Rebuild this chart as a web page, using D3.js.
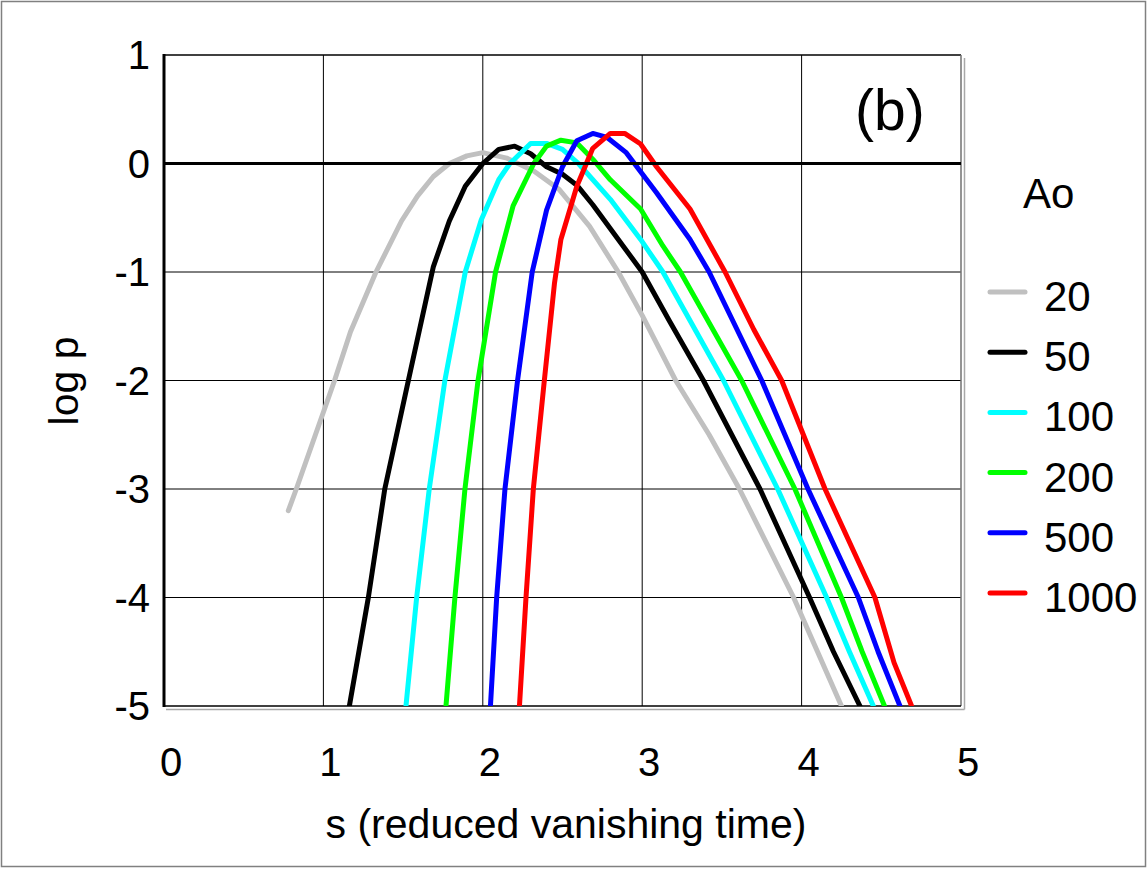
<!DOCTYPE html>
<html>
<head>
<meta charset="utf-8">
<script src="https://cdn.jsdelivr.net/npm/d3@7"></script>
<style>
  body { margin: 0; background: #fff; }
  text { font-family: Arial, "Liberation Sans", sans-serif; fill: #000; }
</style>
</head>
<body>
<div id="chart"></div>
<script>
// tick values
const xTicks = [0, 1, 2, 3, 4, 5];
const yTicks = [1, 0, -1, -2, -3, -4, -5];

// legend
const aoLabels = ["20", "50", "100", "200", "500", "1000"];
const aoColors = ["#c0c0c0", "#000000", "#00ffff", "#00ff00", "#0000ff", "#ff0000"];

// curves: [s, log p]
const ao20 = [[0.78,-3.2],[0.83,-3.0],[0.95,-2.5],[1.07,-2.0],[1.17,-1.55],[1.33,-1.0],[1.49,-0.53],
  [1.59,-0.30],[1.69,-0.12],[1.79,0.0],[1.9,0.07],[2.0,0.10],[2.15,0.05],[2.32,-0.07],[2.48,-0.24],
  [2.67,-0.58],[2.85,-1.0],[3.0,-1.4],[3.21,-2.0],[3.42,-2.5],[3.61,-3.0],[3.95,-4.0],[4.1,-4.5],[4.25,-5.0]];
const ao50 = [[1.163,-5.0],[1.282,-4.0],[1.385,-3.0],[1.533,-2.0],[1.69,-0.95],[1.79,-0.53],[1.89,-0.21],
  [2.0,0.0],[2.1,0.13],[2.2,0.16],[2.3,0.09],[2.4,-0.03],[2.5,-0.1],[2.59,-0.2],[2.69,-0.38],[2.85,-0.7],
  [3.0,-1.0],[3.17,-1.45],[3.384,-2.0],[3.739,-3.0],[4.05,-4.0],[4.2,-4.5],[4.366,-5.0]];
const ao100 = [[1.518,-5.0],[1.585,-4.0],[1.664,-3.0],[1.762,-2.0],[1.89,-1.0],[1.99,-0.52],[2.1,-0.15],
  [2.17,0.0],[2.3,0.185],[2.4,0.185],[2.5,0.13],[2.6,0.0],[2.8,-0.33],[2.99,-0.70],[3.13,-1.0],
  [3.51,-2.0],[3.85,-3.0],[4.157,-4.0],[4.3,-4.5],[4.45,-5.0]];
const ao200 = [[1.769,-5.0],[1.825,-4.0],[1.888,-3.0],[1.97,-2.0],[2.08,-1.0],[2.19,-0.39],[2.32,0.0],
  [2.4,0.16],[2.49,0.215],[2.59,0.19],[2.69,0.04],[2.8,-0.15],[2.99,-0.42],[3.13,-0.76],[3.24,-1.0],
  [3.624,-2.0],[3.958,-3.0],[4.25,-4.0],[4.38,-4.5],[4.52,-5.0]];
const ao500 = [[2.048,-5.0],[2.087,-4.0],[2.139,-3.0],[2.218,-2.0],[2.31,-1.0],[2.4,-0.43],[2.5,-0.03],
  [2.59,0.21],[2.69,0.277],[2.78,0.24],[2.9,0.10],[3.09,-0.27],[3.3,-0.70],[3.42,-1.0],[3.75,-2.0],
  [4.04,-3.0],[4.356,-4.0],[4.48,-4.5],[4.617,-5.0]];
const ao1000 = [[2.23,-5.0],[2.271,-4.0],[2.317,-3.0],[2.386,-2.0],[2.45,-1.1],[2.49,-0.7],[2.59,-0.21],
  [2.69,0.14],[2.8,0.277],[2.89,0.277],[2.99,0.18],[3.09,-0.03],[3.3,-0.42],[3.52,-1.0],[3.7,-1.53],
  [3.875,-2.0],[4.147,-3.0],[4.46,-4.0],[4.5,-4.2],[4.58,-4.6],[4.69,-5.0]];

const curves = [ao20, ao50, ao100, ao200, ao500, ao1000];

const W = 1148, H = 869;
const plot = { left: 164, top: 55, right: 961, bottom: 706 };

const svg = d3.select('#chart')
  .append('svg')
  .attr('width', W)
  .attr('height', H);

// outer frame
svg.append('rect')
  .attr('x', 1.5).attr('y', 1.5)
  .attr('width', W - 4).attr('height', H - 4)
  .attr('fill', '#fff')
  .attr('stroke', '#808080')
  .attr('stroke-width', 1.5);

const x = d3.scaleLinear().domain([0, 5]).range([plot.left, plot.right]);
const y = d3.scaleLinear().domain([-5, 1]).range([plot.bottom, plot.top]);

// grid
const grid = svg.append('g');
grid.selectAll('.vgrid')
  .data(xTicks.filter(d => d > 0 && d < 5))
  .enter().append('line')
  .attr('x1', d => x(d)).attr('x2', d => x(d))
  .attr('y1', plot.top).attr('y2', plot.bottom)
  .attr('stroke', '#000').attr('stroke-width', 1);
grid.selectAll('.hgrid')
  .data(yTicks.filter(d => d > -5 && d !== 0))
  .enter().append('line')
  .attr('x1', plot.left).attr('x2', plot.right)
  .attr('y1', d => y(d)).attr('y2', d => y(d))
  .attr('stroke', '#000').attr('stroke-width', d => d === 1 ? 1.5 : 1);

// right / bottom frame of plot, with the grey shadow line
grid.append('line')
  .attr('x1', plot.right).attr('x2', plot.right)
  .attr('y1', plot.top).attr('y2', plot.bottom)
  .attr('stroke', '#707070').attr('stroke-width', 1.5);
grid.append('line')
  .attr('x1', plot.right + 3.5).attr('x2', plot.right + 3.5)
  .attr('y1', plot.top + 3).attr('y2', plot.bottom + 3.5)
  .attr('stroke', '#a8a8a8').attr('stroke-width', 1.5);
grid.append('line')
  .attr('x1', plot.left).attr('x2', plot.right)
  .attr('y1', plot.bottom).attr('y2', plot.bottom)
  .attr('stroke', '#000').attr('stroke-width', 1.5);
grid.append('line')
  .attr('x1', plot.left + 2).attr('x2', plot.right + 3.5)
  .attr('y1', plot.bottom + 3.5).attr('y2', plot.bottom + 3.5)
  .attr('stroke', '#a8a8a8').attr('stroke-width', 1.5);

// curves
svg.append('clipPath').attr('id', 'clip')
  .append('rect')
  .attr('x', plot.left).attr('y', plot.top)
  .attr('width', plot.right - plot.left).attr('height', plot.bottom - plot.top);

const line = d3.line().x(d => x(d[0])).y(d => y(d[1]));

svg.append('g')
  .attr('clip-path', 'url(#clip)')
  .selectAll('path')
  .data(curves)
  .enter().append('path')
  .attr('d', line)
  .attr('fill', 'none')
  .attr('stroke', (d, i) => aoColors[i])
  .attr('stroke-width', 5)
  .attr('stroke-linejoin', 'round')
  .attr('stroke-linecap', 'round');

// zero line and y axis on top
svg.append('line')
  .attr('x1', plot.left).attr('x2', plot.right)
  .attr('y1', y(0)).attr('y2', y(0))
  .attr('stroke', '#000').attr('stroke-width', 3);
svg.append('line')
  .attr('x1', plot.left).attr('x2', plot.left)
  .attr('y1', plot.top - 1).attr('y2', plot.bottom + 1)
  .attr('stroke', '#000').attr('stroke-width', 3);

// tick labels
svg.selectAll('.ylab')
  .data(yTicks)
  .enter().append('text')
  .attr('x', 150)
  .attr('y', d => y(d) + 14)
  .attr('text-anchor', 'end')
  .attr('font-size', 40)
  .text(d => d);

svg.selectAll('.xlab')
  .data(xTicks)
  .enter().append('text')
  .attr('x', d => x(d) + 7)
  .attr('y', 776)
  .attr('text-anchor', 'middle')
  .attr('font-size', 40)
  .text(d => d);

// axis titles
svg.append('text')
  .attr('x', 566)
  .attr('y', 838)
  .attr('text-anchor', 'middle')
  .attr('font-size', 41)
  .text('s (reduced vanishing time)');

svg.append('text')
  .attr('transform', 'translate(78,381) rotate(-90)')
  .attr('text-anchor', 'middle')
  .attr('font-size', 41)
  .text('log p');

svg.append('text')
  .attr('x', 855)
  .attr('y', 130)
  .attr('font-size', 57)
  .text('(b)');

// legend
svg.append('text')
  .attr('x', 1023)
  .attr('y', 208)
  .attr('font-size', 42)
  .text('Ao');

const legend = svg.selectAll('.legend')
  .data(aoLabels)
  .enter().append('g')
  .attr('transform', (d, i) => `translate(0, ${292 + i * 60.2})`);

legend.append('line')
  .attr('x1', 990).attr('x2', 1025)
  .attr('y1', 0).attr('y2', 0)
  .attr('stroke', (d, i) => aoColors[i])
  .attr('stroke-width', 5)
  .attr('stroke-linecap', 'round');

legend.append('text')
  .attr('x', 1044)
  .attr('y', 19)
  .attr('font-size', 42)
  .text(d => d);
</script>
</body>
</html>
